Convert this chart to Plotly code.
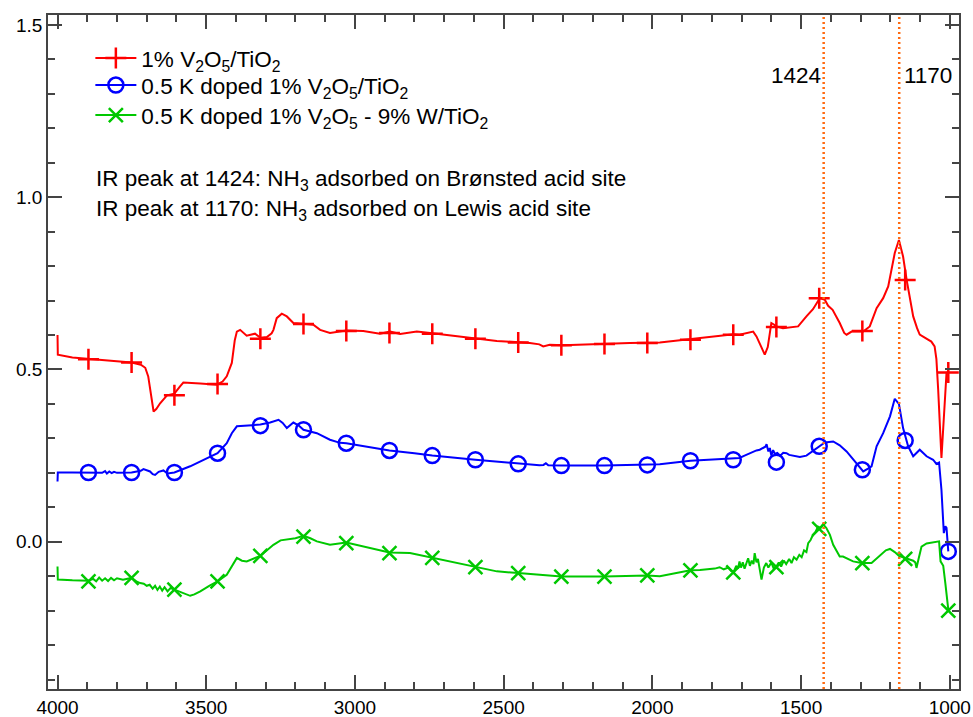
import plotly.graph_objects as go

# ---------------- data ----------------
red_x = [4000, 3999, 3950, 3896, 3850, 3800, 3751, 3720, 3705, 3695, 3688, 3682, 3677, 3668, 3655, 3632, 3607,
         3588, 3577, 3520, 3464, 3445, 3431, 3414, 3404, 3397, 3386, 3364, 3336, 3318, 3296, 3280, 3274, 3263,
         3246, 3229, 3207, 3173, 3140, 3117, 3084, 3029, 2972, 2916, 2882, 2848, 2792, 2740, 2636, 2523, 2412,
         2380, 2367, 2345, 2300, 2187, 2076, 1975, 1871, 1726, 1707, 1661, 1650, 1635, 1622, 1612, 1605, 1600,
         1590, 1583, 1561, 1510, 1482, 1460, 1437, 1420, 1409, 1394, 1370, 1355, 1347, 1330, 1291, 1269, 1246,
         1224, 1207, 1195, 1185, 1171, 1157, 1145, 1123, 1110, 1101, 1080, 1062, 1051, 1045, 1039, 1033, 1028,
         1022, 1017, 1011, 1005]
red_y = [0.600, 0.543, 0.535, 0.531, 0.527, 0.524, 0.520, 0.514, 0.505, 0.480, 0.440, 0.400, 0.378, 0.385, 0.402,
         0.425, 0.430, 0.451, 0.462, 0.459, 0.456, 0.465, 0.480, 0.519, 0.585, 0.610, 0.615, 0.598, 0.604, 0.592,
         0.594, 0.605, 0.615, 0.649, 0.662, 0.654, 0.635, 0.633, 0.630, 0.615, 0.606, 0.613, 0.612, 0.604, 0.610,
         0.603, 0.610, 0.605, 0.594, 0.583, 0.577, 0.573, 0.567, 0.572, 0.570, 0.574, 0.577, 0.578, 0.588, 0.602,
         0.601, 0.610, 0.596, 0.570, 0.543, 0.565, 0.600, 0.635, 0.630, 0.625, 0.620, 0.625, 0.654, 0.675, 0.707,
         0.702, 0.685, 0.673, 0.635, 0.606, 0.601, 0.610, 0.610, 0.625, 0.678, 0.707, 0.741, 0.790, 0.838, 0.876,
         0.828, 0.760, 0.654, 0.620, 0.601, 0.590, 0.581, 0.567, 0.530, 0.441, 0.330, 0.243, 0.330, 0.422, 0.490,
         0.494]

blue_x = [4000, 3999, 3950, 3896, 3850, 3840, 3834, 3826, 3818, 3810, 3800, 3751, 3720, 3711, 3700, 3689, 3680,
          3672, 3660, 3644, 3630, 3607, 3554, 3500, 3462, 3431, 3414, 3397, 3364, 3318, 3285, 3257, 3243, 3229,
          3207, 3190, 3173, 3128, 3084, 3050, 3029, 2960, 2884, 2800, 2740, 2595, 2451, 2380, 2366, 2358, 2350,
          2306, 2161, 2017, 1975, 1872, 1800, 1728, 1707, 1690, 1670, 1650, 1639, 1630, 1620, 1616, 1610, 1605,
          1600, 1594, 1588, 1580, 1570, 1560, 1549, 1540, 1527, 1504, 1482, 1471, 1455, 1439, 1420, 1392, 1370,
          1347, 1325, 1305, 1291, 1275, 1263, 1246, 1224, 1201, 1185, 1171, 1157, 1140, 1123, 1101, 1078, 1056,
          1045, 1036, 1028, 1020, 1015, 1011, 1008, 1005]
blue_y = [0.175, 0.201, 0.201, 0.201, 0.200, 0.205, 0.198, 0.204, 0.199, 0.203, 0.200, 0.201, 0.206, 0.211, 0.208,
          0.204, 0.196, 0.194, 0.203, 0.207, 0.198, 0.201, 0.219, 0.240, 0.257, 0.286, 0.315, 0.335, 0.337, 0.340,
          0.346, 0.354, 0.345, 0.330, 0.346, 0.338, 0.325, 0.315, 0.296, 0.287, 0.286, 0.276, 0.265, 0.257, 0.250,
          0.238, 0.226, 0.222, 0.223, 0.228, 0.222, 0.221, 0.221, 0.223, 0.225, 0.235, 0.238, 0.240, 0.243, 0.250,
          0.258, 0.265, 0.267, 0.272, 0.276, 0.283, 0.262, 0.272, 0.250, 0.266, 0.255, 0.258, 0.250, 0.258, 0.257,
          0.252, 0.250, 0.246, 0.250, 0.257, 0.265, 0.277, 0.288, 0.291, 0.280, 0.262, 0.240, 0.218, 0.204, 0.212,
          0.219, 0.277, 0.315, 0.364, 0.415, 0.400, 0.330, 0.277, 0.248, 0.267, 0.248, 0.238, 0.226, 0.230, 0.151,
          0.025, 0.045, 0.040, 0.000, -0.028]

green_x = [4000, 3999, 3950, 3896, 3880, 3870, 3860, 3850, 3840, 3830, 3820, 3810, 3800, 3780, 3751, 3735, 3722,
           3710, 3700, 3690, 3680, 3672, 3664, 3656, 3648, 3640, 3630, 3620, 3607, 3590, 3570, 3554, 3540, 3520,
           3490, 3462, 3431, 3410, 3397, 3380, 3364, 3318, 3290, 3274, 3250, 3229, 3200, 3173, 3150, 3128, 3084,
           3029, 2949, 2884, 2815, 2740, 2660, 2595, 2523, 2451, 2370, 2306, 2161, 2017, 1975, 1872, 1840, 1807,
           1790, 1774, 1760, 1745, 1735, 1726, 1718, 1712, 1707, 1702, 1696, 1690, 1684, 1678, 1672, 1666, 1660,
           1656, 1650, 1645, 1640, 1633, 1625, 1617, 1610, 1600, 1592, 1583, 1575, 1567, 1558, 1550, 1540, 1532,
           1524, 1515, 1506, 1498, 1490, 1482, 1476, 1468, 1460, 1452, 1443, 1435, 1426, 1415, 1403, 1392, 1370,
           1359, 1325, 1297, 1263, 1234, 1215, 1201, 1185, 1171, 1148, 1123, 1116, 1112, 1105, 1095, 1078, 1060,
           1045, 1036, 1031, 1022, 1015, 1005]
green_y = [-0.072, -0.110, -0.112, -0.113, -0.108, -0.115, -0.104, -0.113, -0.106, -0.114, -0.105, -0.112, -0.106,
           -0.110, -0.105, -0.115, -0.120, -0.122, -0.128, -0.125, -0.136, -0.128, -0.140, -0.130, -0.142, -0.132,
           -0.144, -0.134, -0.139, -0.145, -0.150, -0.157, -0.153, -0.144, -0.128, -0.115, -0.096, -0.065, -0.047,
           -0.055, -0.057, -0.041, -0.022, -0.009, 0.004, 0.006, 0.010, 0.017, 0.010, 0.001, -0.009, -0.002, -0.018,
           -0.031, -0.033, -0.047, -0.062, -0.074, -0.086, -0.091, -0.097, -0.101, -0.101, -0.098, -0.100, -0.083,
           -0.082, -0.080, -0.078, -0.074, -0.080, -0.075, -0.085, -0.086, -0.070, -0.078, -0.057, -0.075, -0.060,
           -0.078, -0.062, -0.048, -0.070, -0.055, -0.065, -0.033, -0.060, -0.050, -0.075, -0.110, -0.075, -0.062,
           -0.075, -0.060, -0.078, -0.072, -0.060, -0.072, -0.055, -0.065, -0.050, -0.062, -0.045, -0.052, -0.038,
           -0.045, -0.025, -0.030, -0.004, 0.005, 0.020, 0.028, 0.044, 0.040, 0.051, 0.040, 0.020, -0.009, -0.043,
           -0.043, -0.057, -0.062, -0.062, -0.038, -0.025, -0.021, -0.030, -0.041, -0.048, -0.055, -0.060, -0.076,
           -0.050, -0.014, -0.005, -0.003, -0.002, 0.001, -0.057, -0.070, -0.120, -0.197]

marker_x = [3896, 3751, 3607, 3462, 3318, 3173, 3029, 2884, 2740, 2595, 2451, 2306, 2161, 2017, 1872, 1728,
            1583, 1439, 1294, 1150, 1005]
red_marker_y = [0.530, 0.520, 0.425, 0.458, 0.589, 0.632, 0.612, 0.606, 0.604, 0.589, 0.578, 0.570, 0.574, 0.577,
                0.586, 0.601, 0.623, 0.707, 0.612, 0.760, 0.491]
blue_marker_y = [0.201, 0.201, 0.201, 0.257, 0.337, 0.325, 0.286, 0.265, 0.250, 0.238, 0.226, 0.221, 0.221, 0.223,
                 0.235, 0.238, 0.231, 0.277, 0.209, 0.294, -0.028]
green_marker_y = [-0.115, -0.105, -0.139, -0.115, -0.041, 0.015, -0.004, -0.033, -0.047, -0.074, -0.091, -0.101,
                  -0.101, -0.098, -0.083, -0.089, -0.074, 0.037, -0.062, -0.050, -0.200]

series_names = ["1% V<sub>2</sub>O<sub>5</sub>/TiO<sub>2</sub>",
                "0.5 K doped 1% V<sub>2</sub>O<sub>5</sub>/TiO<sub>2</sub>",
                "0.5 K doped 1% V<sub>2</sub>O<sub>5</sub> - 9% W/TiO<sub>2</sub>"]
peak_positions = [1424, 1170]
peak_labels = ["1424", "1170"]
notes = ["IR peak at 1424: NH<sub>3</sub> adsorbed on Brønsted acid site",
         "IR peak at 1170: NH<sub>3</sub> adsorbed on Lewis acid site"]

# ---------------- styles ----------------
colors = ["#ff0000", "#0000ff", "#00c800"]
symbols = ["cross-thin", "circle-open", "x-thin"]
msizes = [15, 15, 14]
FONT = "Liberation Sans, Arial, sans-serif"
TXT = 22.5
legend_ids = ["legend", "legend2", "legend3"]
legend_rows = [0.9355, 0.8955, 0.851]

fig = go.Figure()
lines = [(red_x, red_y, red_marker_y), (blue_x, blue_y, blue_marker_y), (green_x, green_y, green_marker_y)]
for i, (lx, ly, my) in enumerate(lines):
    fig.add_trace(go.Scatter(x=lx, y=ly, mode="lines", line=dict(color=colors[i], width=2),
                             showlegend=False, hoverinfo="skip"))
    fig.add_trace(go.Scatter(x=marker_x, y=my, mode="markers",
                             marker=dict(symbol=symbols[i], size=msizes[i], color=colors[i],
                                         line=dict(color=colors[i], width=2.5)),
                             showlegend=False, hoverinfo="skip"))
for i in range(3):
    fig.add_trace(go.Scatter(x=[None], y=[None], mode="lines+markers", name=series_names[i],
                             legend=legend_ids[i],
                             line=dict(color=colors[i], width=2),
                             marker=dict(symbol=symbols[i], size=msizes[i], color=colors[i],
                                         line=dict(color=colors[i], width=2.5))))

for xp in peak_positions:
    fig.add_shape(type="line", x0=xp, x1=xp, y0=0, y1=1, xref="x", yref="paper",
                  line=dict(color="#ff6a10", width=2.5, dash="2px,3px"))
fig.add_annotation(x=peak_positions[0], y=1.352, text=peak_labels[0], showarrow=False,
                   xanchor="right", yanchor="middle", xshift=-1, font=dict(size=TXT, color="black", family=FONT))
fig.add_annotation(x=peak_positions[1], y=1.352, text=peak_labels[1], showarrow=False,
                   xanchor="left", yanchor="middle", xshift=3, font=dict(size=TXT, color="black", family=FONT))
for k, note in enumerate(notes):
    fig.add_annotation(x=3878, y=[1.050, 0.962][k], text=note, showarrow=False, xanchor="left", yanchor="middle",
                       font=dict(size=TXT, color="black", family=FONT))

axis_common = dict(showline=True, linecolor="#444", linewidth=1.5, mirror="ticks", ticks="inside",
                   tickcolor="#444", tickwidth=1.5, showgrid=False, zeroline=False, automargin=False,
                   tickfont=dict(size=19, color="black", family=FONT))
fig.update_xaxes(range=[4032, 969], dtick=500, ticklen=14,
                 minor=dict(dtick=100, ticklen=7, ticks="inside", tickcolor="#444", tickwidth=1.5, showgrid=False),
                 **axis_common)
fig.update_yaxes(range=[-0.4275, 1.529], dtick=0.5, tickformat=".1f", ticklen=14,
                 minor=dict(dtick=0.1, ticklen=7, ticks="inside", tickcolor="#444", tickwidth=1.5, showgrid=False),
                 **axis_common)

legend_layout = {}
for i, lid in enumerate(legend_ids):
    legend_layout[lid] = dict(x=0.0465, y=legend_rows[i], xanchor="left", yanchor="middle",
                              bgcolor="rgba(0,0,0,0)", itemwidth=41,
                              font=dict(size=TXT, family=FONT, color="black"))

fig.update_layout(width=973, height=717, margin=dict(l=48, r=14, t=15, b=28, autoexpand=False),
                  paper_bgcolor="white", plot_bgcolor="white",
                  font=dict(family=FONT, color="black"), **legend_layout)
fig.write_html("out.html")
